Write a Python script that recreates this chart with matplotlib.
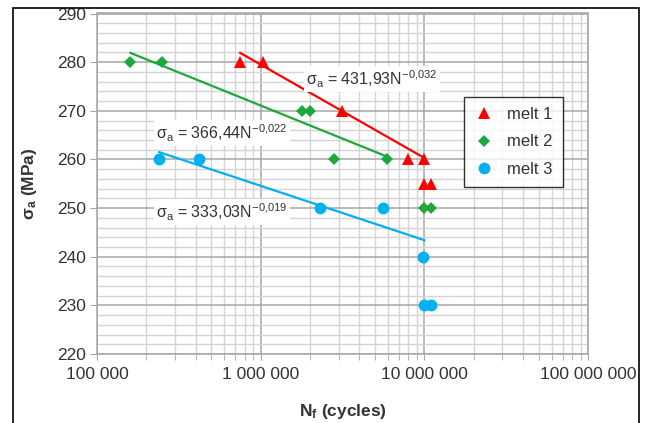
import numpy as np
import matplotlib
matplotlib.use("Agg")
import matplotlib.pyplot as plt
from matplotlib.ticker import FixedLocator, LogLocator, MultipleLocator, NullFormatter
from matplotlib.patches import Rectangle

plt.rcParams['font.family'] = ['Liberation Sans', 'DejaVu Sans']
plt.rcParams['mathtext.fontset'] = 'custom'
plt.rcParams['mathtext.rm'] = 'Liberation Sans'
plt.rcParams['mathtext.it'] = 'Liberation Sans:italic'
plt.rcParams['mathtext.bf'] = 'Liberation Sans:bold'

# data (cycles, MPa)
melt1_n = [7.5e5, 1.04e6, 3.15e6, 8.0e6, 1.0e7, 1.0e7, 1.1e7]
melt1_s = [280, 280, 270, 260, 260, 255, 255]
melt2_n = [1.6e5, 2.5e5, 1.8e6, 2.0e6, 2.8e6, 5.9e6, 1.0e7, 1.1e7]
melt2_s = [280, 280, 270, 270, 260, 260, 250, 250]
melt3_n = [2.4e5, 4.2e5, 2.3e6, 5.6e6, 9.8e6, 1.0e7, 1.1e7]
melt3_s = [260, 260, 250, 250, 240, 230, 230]

# power-law trend lines, start/end as drawn
trend1_n = [7.5e5, 1.0e7]
trend1_s = [281.9, 260.3]
trend2_n = [1.6e5, 5.9e6]
trend2_s = [281.9, 260.6]
trend3_n = [2.4e5, 1.0e7]
trend3_s = [261.5, 243.4]

eq_labels = [r'σ$_\mathrm{a}$ = 431,93N$^{\mathrm{-0{,}032}}$',
             r'σ$_\mathrm{a}$ = 366,44N$^{\mathrm{-0{,}022}}$',
             r'σ$_\mathrm{a}$ = 333,03N$^{\mathrm{-0{,}019}}$']
eq_pos = [(4.8e6, 276.5), (5.8e5, 265.4), (5.8e5, 249.2)]

x_ticks = [1e5, 1e6, 1e7, 1e8]
x_ticklabels = ['100 000', '1 000 000', '10 000 000', '100 000 000']

red = '#FF0000'
green = '#1EA83C'
blue = '#00B0F0'
txt = '#333333'

fig = plt.figure(figsize=(6.48, 4.23), dpi=100)
ax = fig.add_axes([97/648, 1-354/423, (588-97)/648, (354-13.5)/423])

ax.set_xscale('log')
ax.set_xlim(1e5, 1e8)
ax.set_ylim(220, 290)

ax.plot(trend1_n, trend1_s, color=red, lw=1.6, zorder=3)
ax.plot(trend2_n, trend2_s, color=green, lw=1.6, zorder=3)
ax.plot(trend3_n, trend3_s, color=blue, lw=1.6, zorder=3)

ax.plot(melt1_n, melt1_s, '^', color=red, ms=8.5, mew=0, ls='none', label='melt 1', zorder=4)
ax.plot(melt2_n, melt2_s, 'D', color=green, ms=6.5, mew=0, ls='none', label='melt 2', zorder=4)
ax.plot(melt3_n, melt3_s, 'o', color=blue, ms=8.5, mew=0, ls='none', label='melt 3', zorder=4)

for lab, (xx, yy) in zip(eq_labels, eq_pos):
    ax.text(xx, yy, lab, fontsize=11.5, color=txt, ha='center', va='center', zorder=5,
            bbox=dict(facecolor='white', edgecolor='none', pad=1.5))

ax.xaxis.set_major_locator(FixedLocator(x_ticks))
ax.set_xticklabels(x_ticklabels)
ax.xaxis.set_minor_locator(LogLocator(base=10, subs=np.arange(2, 10)))
ax.xaxis.set_minor_formatter(NullFormatter())
ax.yaxis.set_major_locator(MultipleLocator(10))
ax.yaxis.set_minor_locator(MultipleLocator(2))

ax.grid(which='major', color='#A6A6A6', lw=1.1, zorder=0)
ax.grid(which='minor', color='#D4D4D4', lw=1.0, zorder=0)
ax.set_axisbelow(True)

ax.tick_params(axis='x', which='both', direction='out', length=4, color='#A6A6A6',
               labelsize=12.5, labelcolor=txt, pad=5)
ax.tick_params(axis='y', which='major', direction='out', length=5, color='#A6A6A6',
               labelsize=12.5, labelcolor=txt, pad=3)
ax.tick_params(axis='y', which='minor', length=0)
for sp in ax.spines.values():
    sp.set_color('#A6A6A6')
    sp.set_linewidth(1.1)

ax.set_xlabel(r'N$_\mathbf{f}$ (cycles)', fontsize=12.5, fontweight='bold', color=txt, labelpad=15)
ax.set_ylabel(r'σ$_\mathbf{a}$ (MPa)', fontsize=12.5, fontweight='bold', color=txt, labelpad=13)

leg = ax.legend(loc='upper left', bbox_to_anchor=(0.747, 0.755), borderaxespad=0,
                fontsize=12, frameon=True, fancybox=False, handlelength=1.2,
                handletextpad=0.8, labelspacing=0.75, borderpad=0.6, labelcolor=txt)
leg.get_frame().set_edgecolor('black')
leg.get_frame().set_linewidth(1.0)
leg.set_zorder(6)

fig.patches.append(Rectangle((12.7/648, -0.01), (639-12.7)/648, 1.0005-4/423,
                             transform=fig.transFigure, fill=False,
                             edgecolor='black', lw=1.2))

fig.savefig('out.png', dpi=100)
